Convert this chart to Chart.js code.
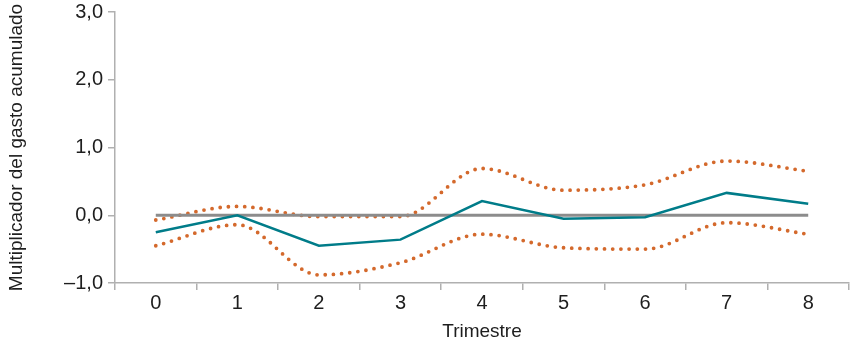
<!DOCTYPE html>
<html><head><meta charset="utf-8">
<script src="https://cdn.jsdelivr.net/npm/chart.js@4"></script>
<style>html,body{margin:0;padding:0;background:#fff}#w{width:850px;height:348px}</style>
</head><body><div id="w"><canvas id="c"></canvas></div>
<script>
const categories = ['0','1','2','3','4','5','6','7','8'];
const central = [-0.25, 0.0, -0.45, -0.36, 0.21, -0.05, -0.03, 0.33, 0.17];
const upper = [-0.07, 0.13, -0.02, -0.02, 0.69, 0.37, 0.45, 0.80, 0.65];
const lower = [-0.45, -0.14, -0.88, -0.70, -0.28, -0.48, -0.50, -0.11, -0.28];
const zeroLine = [0, 0, 0, 0, 0, 0, 0, 0, 0];
const yTicks = [-1, 0, 1, 2, 3];

const FONT = "'Liberation Sans', Arial, sans-serif";
const orange = '#d4692c', teal = '#007c89', gray = '#8c8c8c', axis = '#b0b0b0', txt = '#1e1e1e';
const dotted = {borderColor: orange, borderWidth: 3.8, borderDash: [0, 8.2], borderCapStyle: 'round', tension: 0.4, cubicInterpolationMode: 'monotone', pointRadius: 0, fill: false};

new Chart(document.getElementById('c'), {
  type: 'line',
  data: {
    labels: categories,
    datasets: [
      {data: upper, ...dotted, order: 3},
      {data: lower, ...dotted, order: 3},
      {data: zeroLine, borderColor: gray, borderWidth: 3, pointRadius: 0, tension: 0, order: 2},
      {data: central, borderColor: teal, borderWidth: 2.5, pointRadius: 0, tension: 0, order: 1}
    ]
  },
  options: {
    animation: false, responsive: true, maintainAspectRatio: false,
    layout: {padding: {top: 12, right: 1, left: 0, bottom: 0}},
    plugins: {legend: {display: false}, tooltip: {enabled: false}},
    scales: {
      x: {
        offset: true,
        grid: {display: true, drawOnChartArea: false, drawTicks: true, tickLength: 7, color: axis, offset: true, lineWidth: 1.5},
        border: {display: true, color: axis, width: 1.5},
        ticks: {color: txt, font: {family: FONT, size: 20}, padding: 1, maxRotation: 0},
        title: {display: true, text: 'Trimestre', color: txt, font: {family: FONT, size: 19}, padding: {top: 0, bottom: 5}},
        afterFit: s => { s.height = 65; s.paddingLeft = 0; s.paddingRight = 0; }
      },
      y: {
        min: -1, max: 3,
        afterBuildTicks: s => { s.ticks = yTicks.map(v => ({value: v})); },
        grid: {display: true, drawOnChartArea: false, drawTicks: true, tickLength: 7, color: axis, lineWidth: 1.5},
        border: {display: true, color: axis, width: 1.5},
        ticks: {color: txt, font: {family: FONT, size: 20}, padding: 5,
          callback: v => (v < 0 ? '\u2013' : '') + Math.abs(v).toFixed(1).replace('.', ',')},
        title: {display: true, text: 'Multiplicador del gasto acumulado', color: txt, font: {family: FONT, size: 19}, padding: {top: 5, bottom: 0}},
        afterFit: s => { s.width = 115; s.paddingTop = 0; s.paddingBottom = 0; }
      }
    }
  }
});
</script></body></html>
